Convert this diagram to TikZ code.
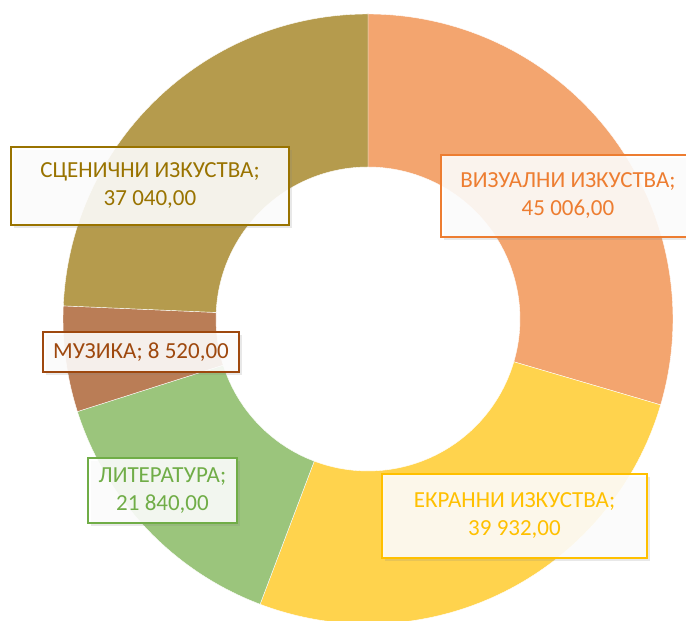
\documentclass[tikz,border=0pt]{standalone}
\usepackage{fontspec}
\setmainfont{Carlito}
\usetikzlibrary{shadows}
\definecolor{cStage}{RGB}{181,155,77}
\definecolor{cVis}{RGB}{243,165,111}
\definecolor{cScr}{RGB}{255,211,77}
\definecolor{cLit}{RGB}{155,197,124}
\definecolor{cMus}{RGB}{186,125,86}
\definecolor{tStage}{RGB}{153,115,0}
\definecolor{tVis}{RGB}{237,125,49}
\definecolor{tScr}{RGB}{255,192,0}
\definecolor{tLit}{RGB}{112,173,71}
\definecolor{tMus}{RGB}{158,72,14}
\tikzset{
  lbl/.style={draw=#1, text=#1, line width=1.6pt, fill=white, fill opacity=0.88, text opacity=1,
    inner sep=0pt, align=center, font=\fontsize{23}{28}\selectfont,
    drop shadow={opacity=0.18, shadow xshift=2.5pt, shadow yshift=-3.5pt}},
  slice/.style={fill=#1, draw=white, line width=0.4pt}
}
\begin{document}
\begin{tikzpicture}[x=1pt,y=1pt]
\useasboundingbox (0,0) rectangle (686,621);
\begin{scope}[shift={(368,302)}]
  \coordinate (c) at (0,0);
  \path[slice=cVis] (90:305pt) arc[start angle=90, end angle=-16.36, radius=305pt] -- (-16.36:152pt) arc[start angle=-16.36, end angle=90, radius=152pt] -- cycle;
  \path[slice=cScr] (-16.36:305pt) arc[start angle=-16.36, end angle=-110.72, radius=305pt] -- (-110.72:152pt) arc[start angle=-110.72, end angle=-16.36, radius=152pt] -- cycle;
  \path[slice=cLit] (-110.72:305pt) arc[start angle=-110.72, end angle=-162.33, radius=305pt] -- (-162.33:152pt) arc[start angle=-162.33, end angle=-110.72, radius=152pt] -- cycle;
  \path[slice=cMus] (-162.33:305pt) arc[start angle=-162.33, end angle=-182.47, radius=305pt] -- (-182.47:152pt) arc[start angle=-182.47, end angle=-162.33, radius=152pt] -- cycle;
  \path[slice=cStage] (-182.47:305pt) arc[start angle=-182.47, end angle=-270, radius=305pt] -- (-270:152pt) arc[start angle=-270, end angle=-182.47, radius=152pt] -- cycle;
\end{scope}
\node[lbl=tStage, minimum width=278pt, minimum height=78pt] (stage) at (150,435) {СЦЕНИЧНИ ИЗКУСТВА;\\37 040,00};
\node[lbl=tVis, minimum width=254pt, minimum height=82pt] (vis) at (568,425) {ВИЗУАЛНИ ИЗКУСТВА;\\45 006,00};
\node[lbl=tMus, minimum width=196pt, minimum height=40pt] (mus) at (141,269) {МУЗИКА; 8 520,00};
\node[lbl=tLit, minimum width=149pt, minimum height=65pt] (lit) at (162.5,130.5) {ЛИТЕРАТУРА;\\21 840,00};
\node[lbl=tScr, minimum width=265pt, minimum height=84pt] (scr) at (514.5,105) {ЕКРАННИ ИЗКУСТВА;\\39 932,00};
\end{tikzpicture}
\end{document}
